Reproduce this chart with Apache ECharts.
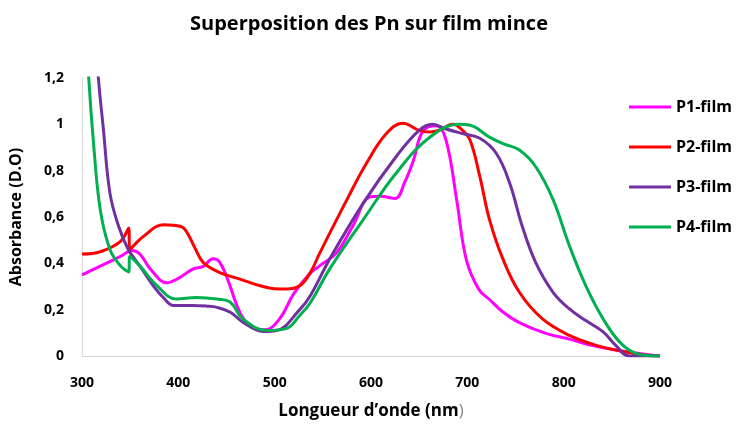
<!DOCTYPE html>
<html>
<head>
<meta charset="utf-8">
<script src="https://cdn.jsdelivr.net/npm/echarts@6/dist/echarts.min.js"></script>
<style>html,body{margin:0;padding:0;background:#fff}#c{width:738px;height:425px}</style>
</head>
<body>
<div id="c"></div>
<script>
const seriesNames = ['P1-film', 'P2-film', 'P3-film', 'P4-film'];
const xTicks = [300, 400, 500, 600, 700, 800, 900];
const yTicks = [0, 0.2, 0.4, 0.6, 0.8, 1, 1.2];

const p1 = [[300,0.35],[320,0.39],[340,0.43],[352,0.455],[360,0.44],[372,0.37],[388,0.316],[400,0.335],[415,0.375],[426,0.387],[436,0.42],[442,0.41],[450,0.344],[464,0.187],[475,0.13],[490,0.113],[505,0.16],[520,0.27],[537,0.358],[547,0.39],[564,0.444],[581,0.56],[599,0.687],[610,0.69],[625,0.68],[635,0.75],[644,0.844],[654,0.972],[668,0.994],[678,0.93],[689,0.672],[699,0.415],[712,0.287],[723,0.244],[737,0.19],[754,0.144],[780,0.1],[806,0.073],[830,0.045],[858,0.023],[900,0.0]];

const p2 = [[300,0.44],[319,0.45],[340,0.495],[348.5,0.553],[349.5,0.46],[364,0.517],[385,0.567],[402,0.56],[408,0.54],[418,0.46],[426,0.403],[443,0.36],[464,0.332],[485,0.303],[500,0.29],[512,0.289],[526,0.303],[537,0.36],[547,0.446],[575,0.675],[595,0.83],[616,0.96],[633,1.005],[650,0.974],[661,0.967],[671,0.975],[685,1.0],[695,0.974],[703,0.93],[713,0.774],[723,0.589],[737,0.418],[754,0.275],[778,0.16],[806,0.089],[834,0.046],[858,0.023],[896,0.0],[900,0.0]];

const p3 = [[300,2.4],[310,1.6],[317,1.2],[322,0.988],[329,0.703],[338,0.56],[348,0.46],[360,0.389],[374,0.303],[385,0.25],[395,0.218],[415,0.218],[430,0.215],[440,0.21],[454,0.189],[467,0.146],[488,0.106],[502,0.11],[526,0.2],[537,0.26],[557,0.418],[592,0.66],[626,0.86],[650,0.974],[664,1.0],[678,0.98],[695,0.96],[713,0.94],[730,0.875],[744,0.746],[757,0.56],[771,0.403],[789,0.275],[806,0.203],[823,0.153],[841,0.104],[854,0.046],[868,0.0],[885,0.0],[900,0.0]];

const p4 = [[300,1.75],[307,1.2],[312,0.917],[319,0.63],[329,0.46],[340,0.389],[348.5,0.363],[349.5,0.43],[360,0.389],[378,0.303],[398,0.246],[419,0.253],[440,0.246],[454,0.232],[467,0.16],[492,0.11],[512,0.118],[526,0.175],[537,0.23],[557,0.375],[592,0.589],[626,0.789],[661,0.944],[692,1.0],[703,0.996],[723,0.945],[737,0.917],[754,0.889],[771,0.817],[789,0.675],[806,0.475],[823,0.303],[841,0.16],[858,0.061],[875,0.011],[896,0.0],[900,0.0]];

const colors = ['#FF00FF', '#FF0000', '#7030A0', '#00B050'];
const allData = [p1, p2, p3, p4];
const FONT = 'Open Sans';

const chart = echarts.init(document.getElementById('c'), null, {renderer: 'canvas'});
chart.setOption({
  animation: false,
  color: colors,
  title: {
    text: 'Superposition des Pn sur film mince',
    left: 'center', top: 9,
    textStyle: {fontFamily: FONT, fontWeight: 'bold', fontSize: 20, color: '#000'}
  },
  legend: {
    orient: 'vertical', left: 624, top: 92, itemGap: 20,
    itemWidth: 42, itemHeight: 3, icon: 'rect',
    data: seriesNames,
    textStyle: {fontFamily: FONT, fontWeight: 'bold', fontSize: 16, color: '#000', lineHeight: 20}
  },
  grid: {left: 82, right: 78, top: 78, bottom: 67, containLabel: false},
  xAxis: {
    type: 'value', min: xTicks[0], max: xTicks[xTicks.length-1], interval: 100,
    name: 'Longueur d’onde (nm{t|)}', nameLocation: 'middle', nameGap: 47,
    nameTextStyle: {fontFamily: FONT, fontWeight: 'bold', fontSize: 17, color: '#000',
      rich: {t: {fontFamily: FONT, fontWeight: 'normal', fontSize: 17, color: '#888'}}},
    axisLine: {show: true, lineStyle: {color: '#d9d9d9', width: 1}},
    axisTick: {show: false}, splitLine: {show: false},
    axisLabel: {fontFamily: FONT, fontWeight: 'bold', fontSize: 14, color: '#000', margin: 20}
  },
  yAxis: {
    type: 'value', min: yTicks[0], max: yTicks[yTicks.length-1], interval: 0.2,
    name: 'Absorbance (D.O)', nameLocation: 'middle', nameGap: 58, nameRotate: 90,
    nameTextStyle: {fontFamily: FONT, fontWeight: 'bold', fontSize: 16, color: '#000'},
    axisLine: {show: true, lineStyle: {color: '#d9d9d9', width: 1}},
    axisTick: {show: false}, splitLine: {show: false},
    axisLabel: {fontFamily: FONT, fontWeight: 'bold', fontSize: 14, color: '#000', margin: 18,
      formatter: v => String(+v.toFixed(1)).replace('.', ',')}
  },
  series: seriesNames.map((n, i) => ({
    name: n, type: 'line', data: allData[i], showSymbol: false, symbol: 'none',
    smooth: 0.4, clip: true,
    lineStyle: {width: 3, color: colors[i]}
  }))
});
</script>
</body>
</html>
